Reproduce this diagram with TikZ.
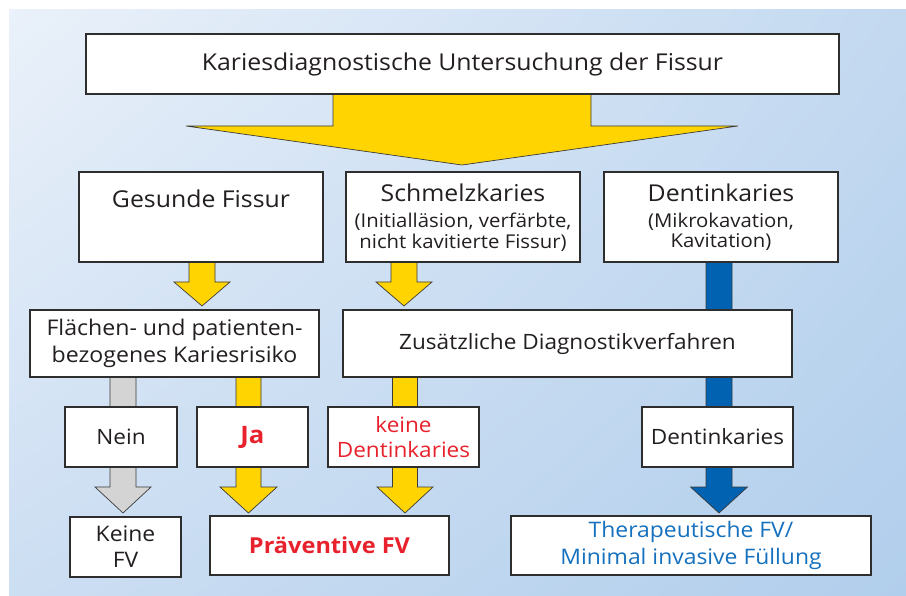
\documentclass[tikz,border=0pt]{standalone}
\usepackage{fontspec}
\setmainfont[FakeStretch=1.07]{Open Sans}
\usetikzlibrary{shadings}
\definecolor{bgUL}{HTML}{EAF1FA}
\definecolor{bgUR}{HTML}{C3D9F0}
\definecolor{bgLL}{HTML}{CCDEF2}
\definecolor{bgLR}{HTML}{B1CEEC}
\definecolor{ylw}{HTML}{FFD400}
\definecolor{blu}{HTML}{0062B0}
\definecolor{gry}{HTML}{D4D4D4}
\definecolor{arrline}{HTML}{3A3A3A}
\definecolor{boxline}{HTML}{2E2E2E}
\definecolor{txt}{HTML}{231F20}
\definecolor{redtxt}{HTML}{E8222D}
\definecolor{bluetxt}{HTML}{1570BE}
\newcommand\blockarrow[7]{%
  \filldraw[arr,fill=#1] (#2-#6,#3) -- (#2-#6,#4) -- (#2-#7,#4) -- (#2,#5) -- (#2+#7,#4) -- (#2+#6,#4) -- (#2+#6,#3) -- cycle;}
\begin{document}
\begin{tikzpicture}[x=1pt,y=-1pt,
  box/.style={draw=boxline,line width=1.1pt,fill=white,inner sep=0pt,align=center,text=txt},
  arr/.style={draw=arrline,line width=0.7pt,line join=miter},
  bigf/.style={font=\fontsize{23.2}{27}\selectfont},
  midf/.style={font=\fontsize{21.1}{26}\selectfont},
  smallf/.style={font=\fontsize{19}{20.5}\selectfont},
  lbl/.style={inner sep=0pt,align=center,text=txt}]
\useasboundingbox (0,0) rectangle (906,596);
\shade[upper left=bgUL,upper right=bgUR,lower left=bgLL,lower right=bgLR] (9,10) rectangle (906,596);
% arrows (drawn first, boxes cover them)
\blockarrow{ylw}{462}{90}{126}{165}{129}{276}
\blockarrow{ylw}{202}{262}{282}{306}{13}{28}
\blockarrow{ylw}{404}{262}{282}{306}{13}{28}
\blockarrow{blu}{719}{262}{487}{513}{13}{28.5}
\blockarrow{gry}{123}{377}{487}{513}{13}{28}
\blockarrow{ylw}{248.5}{377}{487}{513}{12.5}{28.5}
\blockarrow{ylw}{405}{377}{487}{513}{12.5}{28}
% row 1
\node[box,bigf,minimum width=753pt,minimum height=60pt] (top) at (462.5,64) {Kariesdiagnostische Untersuchung der Fissur};
% row 2
\node[box,minimum width=244pt,minimum height=90pt] (gesund) at (201,217) {};
\node[box,minimum width=234pt,minimum height=90pt] (schmelz) at (463,217) {};
\node[box,minimum width=234pt,minimum height=90pt] (dentin) at (721,217) {};
\node[lbl,bigf] (gesundT) at (201,199) {Gesunde Fissur};
\node[lbl,bigf] (schmelzT) at (463,193) {Schmelzkaries};
\node[lbl,smallf] (schmelzS) at (463,232) {(Initialläsion, verfärbte,\\nicht kavitierte Fissur)};
\node[lbl,bigf] (dentinT) at (721,193) {Dentinkaries};
\node[lbl,smallf] (dentinS) at (721,232) {(Mikrokavation,\\Kavitation)};
% row 3
\node[box,minimum width=289pt,minimum height=67pt,font=\fontsize{21.6}{27}\selectfont] (flaechen) at (174.5,343.5) {Flächen- und patienten-\\bezogenes Kariesrisiko};
\node[box,midf,minimum width=449pt,minimum height=67pt] (zusatz) at (567.5,343.5) {Zusätzliche Diagnostikverfahren};
% row 4
\node[box,midf,minimum width=112pt,minimum height=60pt] (nein) at (121,437) {Nein};
\node[box,minimum width=111pt,minimum height=60pt,text=redtxt,font=\fontsize{24}{27}\selectfont\bfseries] (ja) at (252.5,437) {Ja};
\node[box,minimum width=151pt,minimum height=60pt,text=redtxt,font=\fontsize{21.1}{25}\selectfont] (keine) at (403.5,437) {keine\\Dentinkaries};
\node[box,midf,minimum width=151pt,minimum height=60pt] (dentin2) at (717.5,437) {Dentinkaries};
% row 5
\node[box,minimum width=111pt,minimum height=60pt,font=\fontsize{21.4}{26}\selectfont] (keinefv) at (125.5,547) {Keine\\FV};
\node[box,minimum width=239pt,minimum height=59pt,text=redtxt,font=\fontsize{22}{27}\selectfont\bfseries] (praev) at (329.5,545.5) {Präventive FV};
\node[box,minimum width=360pt,minimum height=59pt,text=bluetxt,font=\fontsize{21.4}{27}\selectfont] (thera) at (691,545.5) {Therapeutische FV/\\Minimal invasive Füllung};
\end{tikzpicture}
\end{document}
